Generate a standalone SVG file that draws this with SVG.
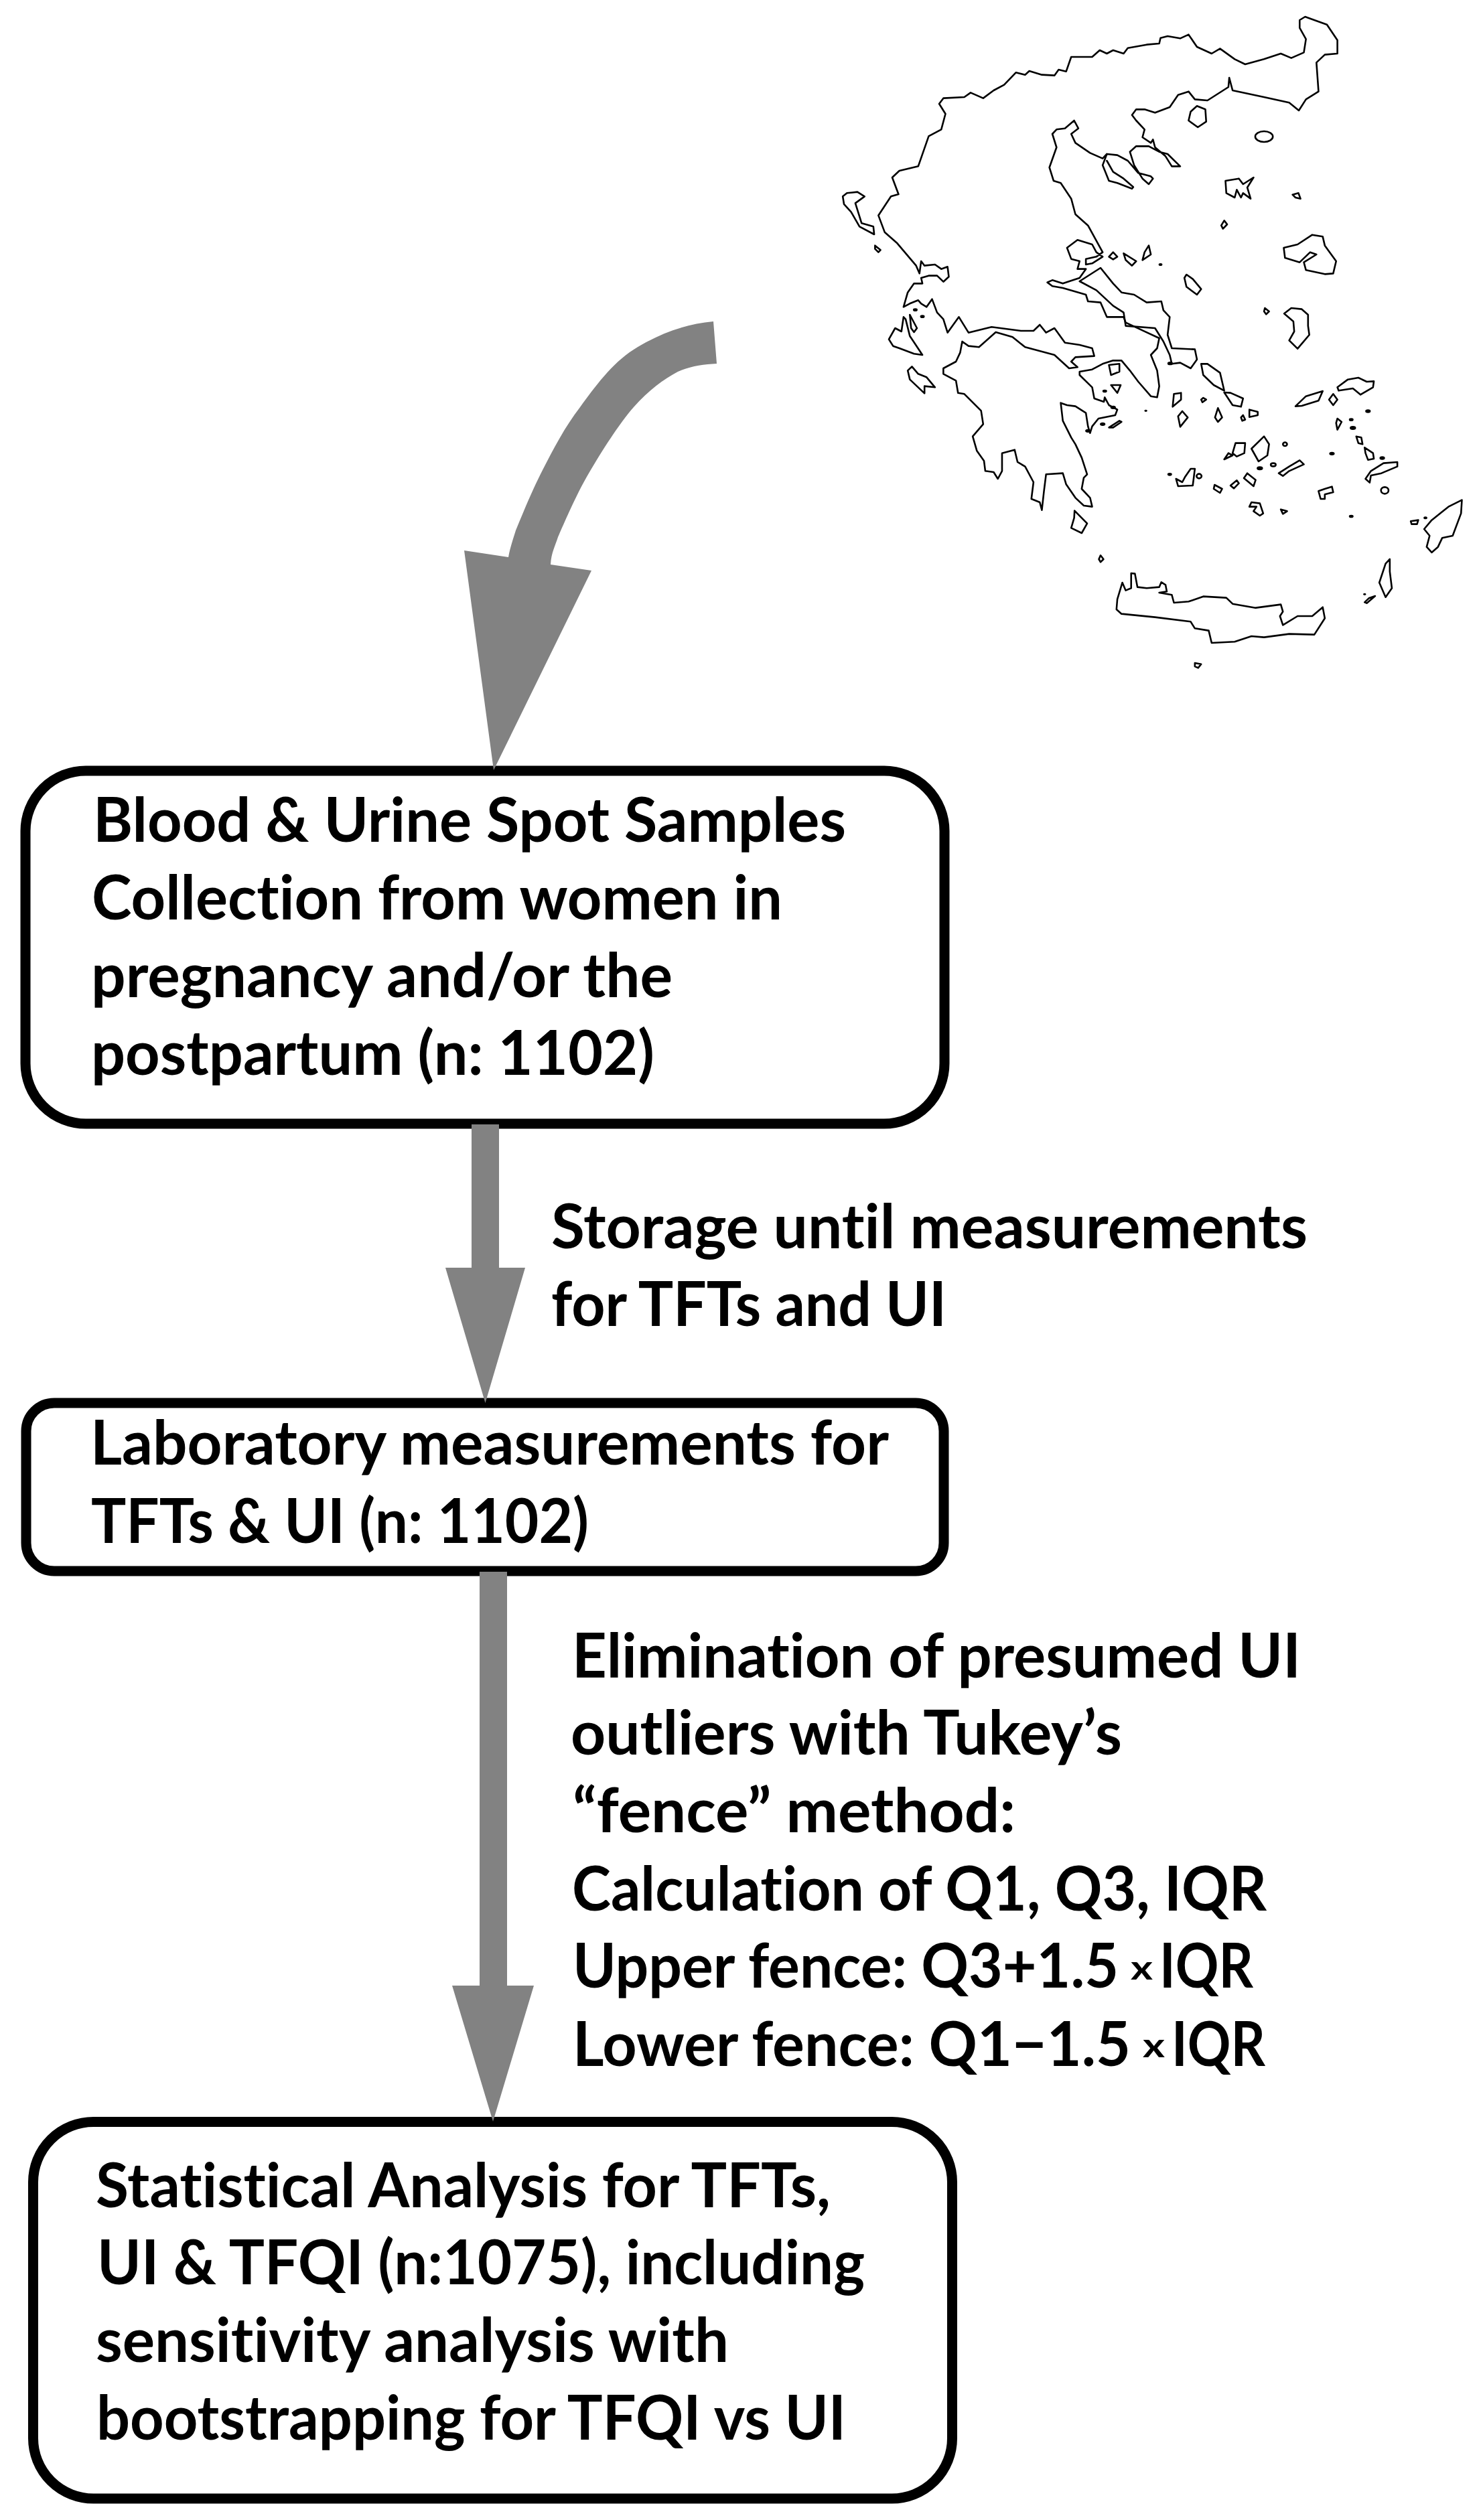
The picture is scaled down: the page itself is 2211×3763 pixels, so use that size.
<svg xmlns="http://www.w3.org/2000/svg" width="2211" height="3763" viewBox="0 0 2211 3763">
<style>
.box{fill:#fff;stroke:#000;stroke-width:15}
.t{font-family:"Lato","Carlito","Liberation Sans",sans-serif;font-weight:700;font-size:91px;fill:#000;font-variant-ligatures:none}
.x{font-size:50px}
.arrow{fill:#828282;stroke:none}
.m{fill:none;stroke:#000;stroke-width:2.6;stroke-linejoin:round;stroke-linecap:round;vector-effect:non-scaling-stroke}
.d{fill:#000;stroke:#000;stroke-width:2;vector-effect:non-scaling-stroke}
</style>
<rect width="2211" height="3763" fill="#fff"/>
<g id="map" transform="translate(1230 0) scale(.6258 .33333)">
<path class="m" d="M220,1190L228,1225L232,1170L240,1190L265,1185L280,1205L295,1195L298,1240L285,1262L270,1235L250,1235L232,1245L235,1270L215,1270L200,1310L190,1375L205,1360L225,1345L232,1360L245,1375L258,1340L270,1400L285,1430L295,1490L322,1420L345,1490L400,1465L470,1482L500,1482L515,1455L530,1490L550,1470L575,1535L610,1545L640,1560L645,1595L600,1600L590,1620L605,1645L585,1650L550,1590L480,1555L450,1510L410,1488L370,1555L345,1550L330,1530L325,1580L315,1620L285,1650L285,1675L315,1705L320,1760L335,1765L375,1840L380,1900L355,1955L365,2020L382,2065L385,2110L405,2115L415,2145L425,2110L425,2030L455,2015L462,2070L480,2090L500,2160L495,2235L515,2250L520,2285L525,2200L530,2125L570,2120L578,2170L600,2230L620,2265L640,2270L635,2230L615,2190L620,2140L628,2125L615,2050L600,1990L590,1960L570,1885L565,1805L580,1815L600,1820L625,1850L630,1910L635,1940L640,1910L655,1875L695,1860L700,1835L680,1815L670,1780L668,1800L645,1785L640,1735L610,1680L610,1665L640,1655L665,1630L690,1615L710,1615L730,1660L750,1710L780,1775L795,1780L800,1730L795,1660L780,1590L795,1560L800,1515L760,1480L720,1445L715,1420L675,1420L660,1355L630,1350L625,1320L570,1290L545,1282L533,1265L545,1255L570,1270L610,1245L625,1205L605,1205L610,1170L590,1160L580,1110L605,1075L640,1095L650,1130L665,1150L640,1180L625,1185L625,1160L650,1150L665,1130L630,1010L600,960L590,890L565,820L548,810L538,750L555,660L545,600L555,580L575,575L597,540L607,575L590,600L600,640L635,685L665,710L675,690L700,695L725,720L750,775L780,790L785,800L775,825L760,800L740,740L730,680L745,655L775,655L800,680L820,690L850,745L830,745L815,700L790,660L785,625L780,640L760,615L765,580L745,540L735,515L745,490L765,490L790,505L825,480L845,425L870,410L885,445L915,450L965,390L967,348L975,405L1050,435L1110,460L1133,495L1150,445L1180,410L1175,280L1195,245L1225,240L1225,180L1200,110L1170,90L1148,75L1135,90L1135,125L1150,175L1145,235L1115,260L1090,240L1050,265L1005,288L980,265L945,218L925,240L890,210L870,155L850,172L820,162L803,170L800,195L770,200L725,215L715,240L690,225L675,240L658,225L640,255L590,255L578,320L560,312L550,338L520,335L490,318L480,335L458,325L430,380L405,405L380,440L350,415L335,435L285,440L275,465L290,510L280,580L250,610L225,745L180,765L163,795L178,870L160,880L130,965L145,1040L175,1090Z"/>
<path class="m" d="M675,690L665,740L680,810L700,820L735,845L738,838L715,800L690,770L675,720M610,1260L660,1200L690,1270L710,1310L740,1320L770,1355L805,1350L810,1390L825,1420L820,1500L830,1560L885,1565L890,1610L875,1650L850,1625L830,1630L825,1590L810,1530L790,1470L720,1460L715,1400L690,1370L650,1300L610,1260"/>
<path class="m" d="M890,475L910,490L912,545L892,570L870,540L875,500ZM958,810L990,800L1000,825L1025,795L1010,840L1018,890L1000,865L995,885L985,850L980,885L960,865ZM1118,872L1132,865L1137,890L1125,885ZM955,988L962,1005L952,1025L948,1010ZM1097,1110L1130,1095L1165,1052L1190,1060L1195,1100L1222,1170L1215,1225L1195,1228L1150,1210L1145,1175L1175,1140L1160,1130L1135,1175L1100,1155ZM45,880L55,865L80,860L97,880L75,910L90,1000L118,1015L120,1050L85,1015L65,950L48,915ZM122,1100L135,1120L130,1130L122,1115ZM680,1150L690,1130L700,1150L690,1162ZM715,1135L745,1170L735,1190L720,1165ZM775,1100L780,1140L760,1165L765,1130ZM865,1230L880,1250L900,1295L890,1320L865,1285L860,1245ZM1052,1380L1062,1395L1055,1408L1050,1395Z"/>
<ellipse class="m" cx="1050" cy="612" rx="21" ry="24"/>
<circle class="d" cx="803" cy="1185" r="3"/><circle class="d" cx="218" cy="1388" r="4"/><circle class="d" cx="235" cy="1418" r="4"/>
<g transform="translate(0 1440)">
<path class="m" d="M1098,-35L1115,-60L1140,-55L1155,-30L1155,20L1158,60L1130,122L1110,85L1122,45L1120,0ZM155,80L170,30L185,45L190,-20L195,-10L205,65L235,150L215,145L180,120L165,110ZM205,-30L222,30L215,48L208,30ZM210,202L225,235L245,250L265,295L240,290L240,322L205,260L200,220ZM598,848L628,905L615,948L590,925L597,880ZM660,1048L667,1065L660,1078L656,1065ZM700,1245L712,1170L720,1205L733,1195L733,1128L742,1130L748,1190L770,1195L800,1190L805,1168L815,1180L818,1210L800,1215L830,1225L835,1260L870,1255L905,1232L960,1238L975,1265L1030,1283L1090,1268L1095,1300L1088,1320L1095,1360L1130,1320L1165,1320L1190,1280L1195,1330L1170,1403L1110,1400L1050,1415L1020,1410L980,1435L925,1440L918,1385L885,1375L875,1345L790,1325L710,1310L698,1290ZM885,1530L900,1535L893,1552L885,1545ZM1522,800L1520,860L1500,960L1475,970L1465,1010L1450,1035L1438,1010L1445,960L1432,930L1450,890L1490,830ZM1400,895L1418,890L1415,908L1402,908ZM1350,1065L1350,1120L1355,1195L1340,1235L1325,1170L1340,1085ZM1290,1258L1300,1240L1315,1230L1295,1262ZM900,190L915,190L945,230L955,310L930,285L905,240ZM955,318L970,320L1000,345L995,382L975,375ZM835,325L852,320L852,350L832,382ZM855,402L868,430L850,472L845,425ZM905,342L912,350L903,362L900,350ZM940,388L950,430L940,450L933,430ZM1015,395L1035,405L1035,420L1015,428ZM1000,420L1005,440L998,445L995,430ZM1125,380L1150,335L1190,312L1180,355L1140,378ZM1225,295L1250,260L1275,252L1295,270L1312,268L1310,295L1280,328L1262,300L1228,310ZM1215,325L1225,350L1215,375L1205,350ZM1225,435L1235,450L1225,485L1222,455ZM1270,515L1282,520L1285,550L1275,545ZM1290,565L1310,590L1312,615L1298,620L1292,590ZM1368,630L1368,650L1330,680L1305,690L1302,722L1292,705L1305,670L1335,635ZM1050,515L1062,550L1058,600L1037,627L1020,570ZM982,545L1005,545L1003,590L985,605L975,590ZM965,590L975,600L955,618ZM1135,622L1145,640L1110,670L1095,692L1085,680L1110,650ZM1010,680L1030,710L1025,738L1002,702ZM985,712L990,725L978,748L970,735ZM932,732L950,750L945,768L930,750ZM840,705L855,720L862,695L875,660L885,660L880,735L845,738ZM1020,810L1040,815L1048,860L1040,870L1025,850L1032,830L1015,830ZM1090,842L1105,850L1095,862ZM1180,760L1195,750L1212,740L1215,765L1195,775L1195,795L1185,795ZM680,195L705,190L705,225L685,240ZM685,285L708,285L700,320ZM680,475L705,445L710,450L690,475Z"/>
<ellipse class="m" cx="895" cy="693" rx="6" ry="10"/>
<ellipse class="m" cx="1338" cy="757" rx="9" ry="15"/>
<ellipse class="m" cx="1100" cy="550" rx="5" ry="8"/>
<ellipse class="m" cx="1072" cy="642" rx="6" ry="7"/>
<circle class="d" cx="1298" cy="402" r="5"/><circle class="d" cx="1258" cy="440" r="4"/><circle class="d" cx="1262" cy="477" r="6"/><circle class="d" cx="1332" cy="612" r="5"/><circle class="d" cx="1212" cy="592" r="5"/><circle class="d" cx="1040" cy="658" r="6"/><circle class="d" cx="825" cy="685" r="4"/><circle class="d" cx="1258" cy="873" r="4"/><circle class="d" cx="1435" cy="880" r="3"/><circle class="d" cx="1290" cy="1222" r="2"/><circle class="d" cx="670" cy="312" r="4"/><circle class="d" cx="690" cy="385" r="5"/><circle class="d" cx="665" cy="460" r="5"/><circle class="d" cx="630" cy="490" r="5"/><circle class="d" cx="768" cy="400" r="2"/><circle class="d" cx="826" cy="188" r="5"/>
</g>
</g>
<g id="node-collection">
<rect class="box" x="38" y="1151" width="1372" height="527" rx="90" ry="90"/>
<text class="t" x="139" y="1257" textLength="1124" lengthAdjust="spacingAndGlyphs">Blood &amp; Urine Spot Samples</text>
<text class="t" x="137" y="1373" textLength="1031" lengthAdjust="spacingAndGlyphs">Collection from women in</text>
<text class="t" x="136" y="1489" textLength="868" lengthAdjust="spacingAndGlyphs">pregnancy and/or the</text>
<text class="t" x="136" y="1605" textLength="841" lengthAdjust="spacingAndGlyphs">postpartum (n: 1102)</text>
</g>
<g id="node-laboratory">
<rect class="box" x="39" y="2095" width="1370" height="251" rx="42" ry="42"/>
<text class="t" x="135" y="2187" textLength="1192" lengthAdjust="spacingAndGlyphs">Laboratory measurements for</text>
<text class="t" x="136" y="2304" textLength="743" lengthAdjust="spacingAndGlyphs">TFTs &amp; UI (n: 1102)</text>
</g>
<g id="node-statistical">
<rect class="box" x="49.500" y="3168.500" width="1372" height="562.500" rx="90" ry="90"/>
<text class="t" x="143" y="3296" textLength="1097" lengthAdjust="spacingAndGlyphs">Statistical Analysis for TFTs,</text>
<text class="t" x="145" y="3411" textLength="1146" lengthAdjust="spacingAndGlyphs">UI &amp; TFQI (n:1075), including</text>
<text class="t" x="143" y="3527" textLength="945" lengthAdjust="spacingAndGlyphs">sensitivity analysis with</text>
<text class="t" x="144" y="3643" textLength="1119" lengthAdjust="spacingAndGlyphs">bootstrapping for TFQI vs UI</text>
</g>
<g id="connectors">
<path class="arrow" d="M1065,480C1020,484 979,501 946,522C913,543 888,578 866,608C843,638 827,669 811,700C795,731 779,770 770,792C765,808 761,820 759,832L693,822L737,1150L883,852L822,843C823,825 829,815 833,802C843,779 861,737 880,705C899,673 924,633 946,608C968,583 991,566 1012,555C1033,546 1050,544 1070,543Z"/>
<path class="arrow" d="M704,1679H745V1893H784L724.500,2095L665,1893H704Z"/>
<path class="arrow" d="M716,2347H757V2965H797L736,3168L675,2965H716Z"/>
</g>
<g id="label-storage">
<text class="t" x="823" y="1864" textLength="1129" lengthAdjust="spacingAndGlyphs">Storage until measurements</text>
<text class="t" x="823" y="1980" textLength="590" lengthAdjust="spacingAndGlyphs">for TFTs and UI</text>
</g>
<g id="label-elimination">
<text class="t" x="854" y="2505" textLength="1088" lengthAdjust="spacingAndGlyphs">Elimination of presumed UI</text>
<text class="t" x="852" y="2620" textLength="823" lengthAdjust="spacingAndGlyphs">outliers with Tukey’s</text>
<text class="t" x="855" y="2736" textLength="661" lengthAdjust="spacingAndGlyphs">“fence” method:</text>
<text class="t" x="854" y="2853" textLength="1037" lengthAdjust="spacingAndGlyphs">Calculation of Q1, Q3, IQR</text>
<text class="t" x="855" y="2968" textLength="815" lengthAdjust="spacingAndGlyphs">Upper fence: Q3+1.5</text>
<text class="t x" x="1688" y="2956" textLength="33" lengthAdjust="spacingAndGlyphs">x</text>
<text class="t" x="1731" y="2968" textLength="140" lengthAdjust="spacingAndGlyphs">IQR</text>
<text class="t" x="855" y="3085" textLength="833" lengthAdjust="spacingAndGlyphs">Lower fence: Q1−1.5</text>
<text class="t x" x="1706" y="3072" textLength="33" lengthAdjust="spacingAndGlyphs">x</text>
<text class="t" x="1749" y="3085" textLength="140" lengthAdjust="spacingAndGlyphs">IQR</text>
</g>
</svg>
